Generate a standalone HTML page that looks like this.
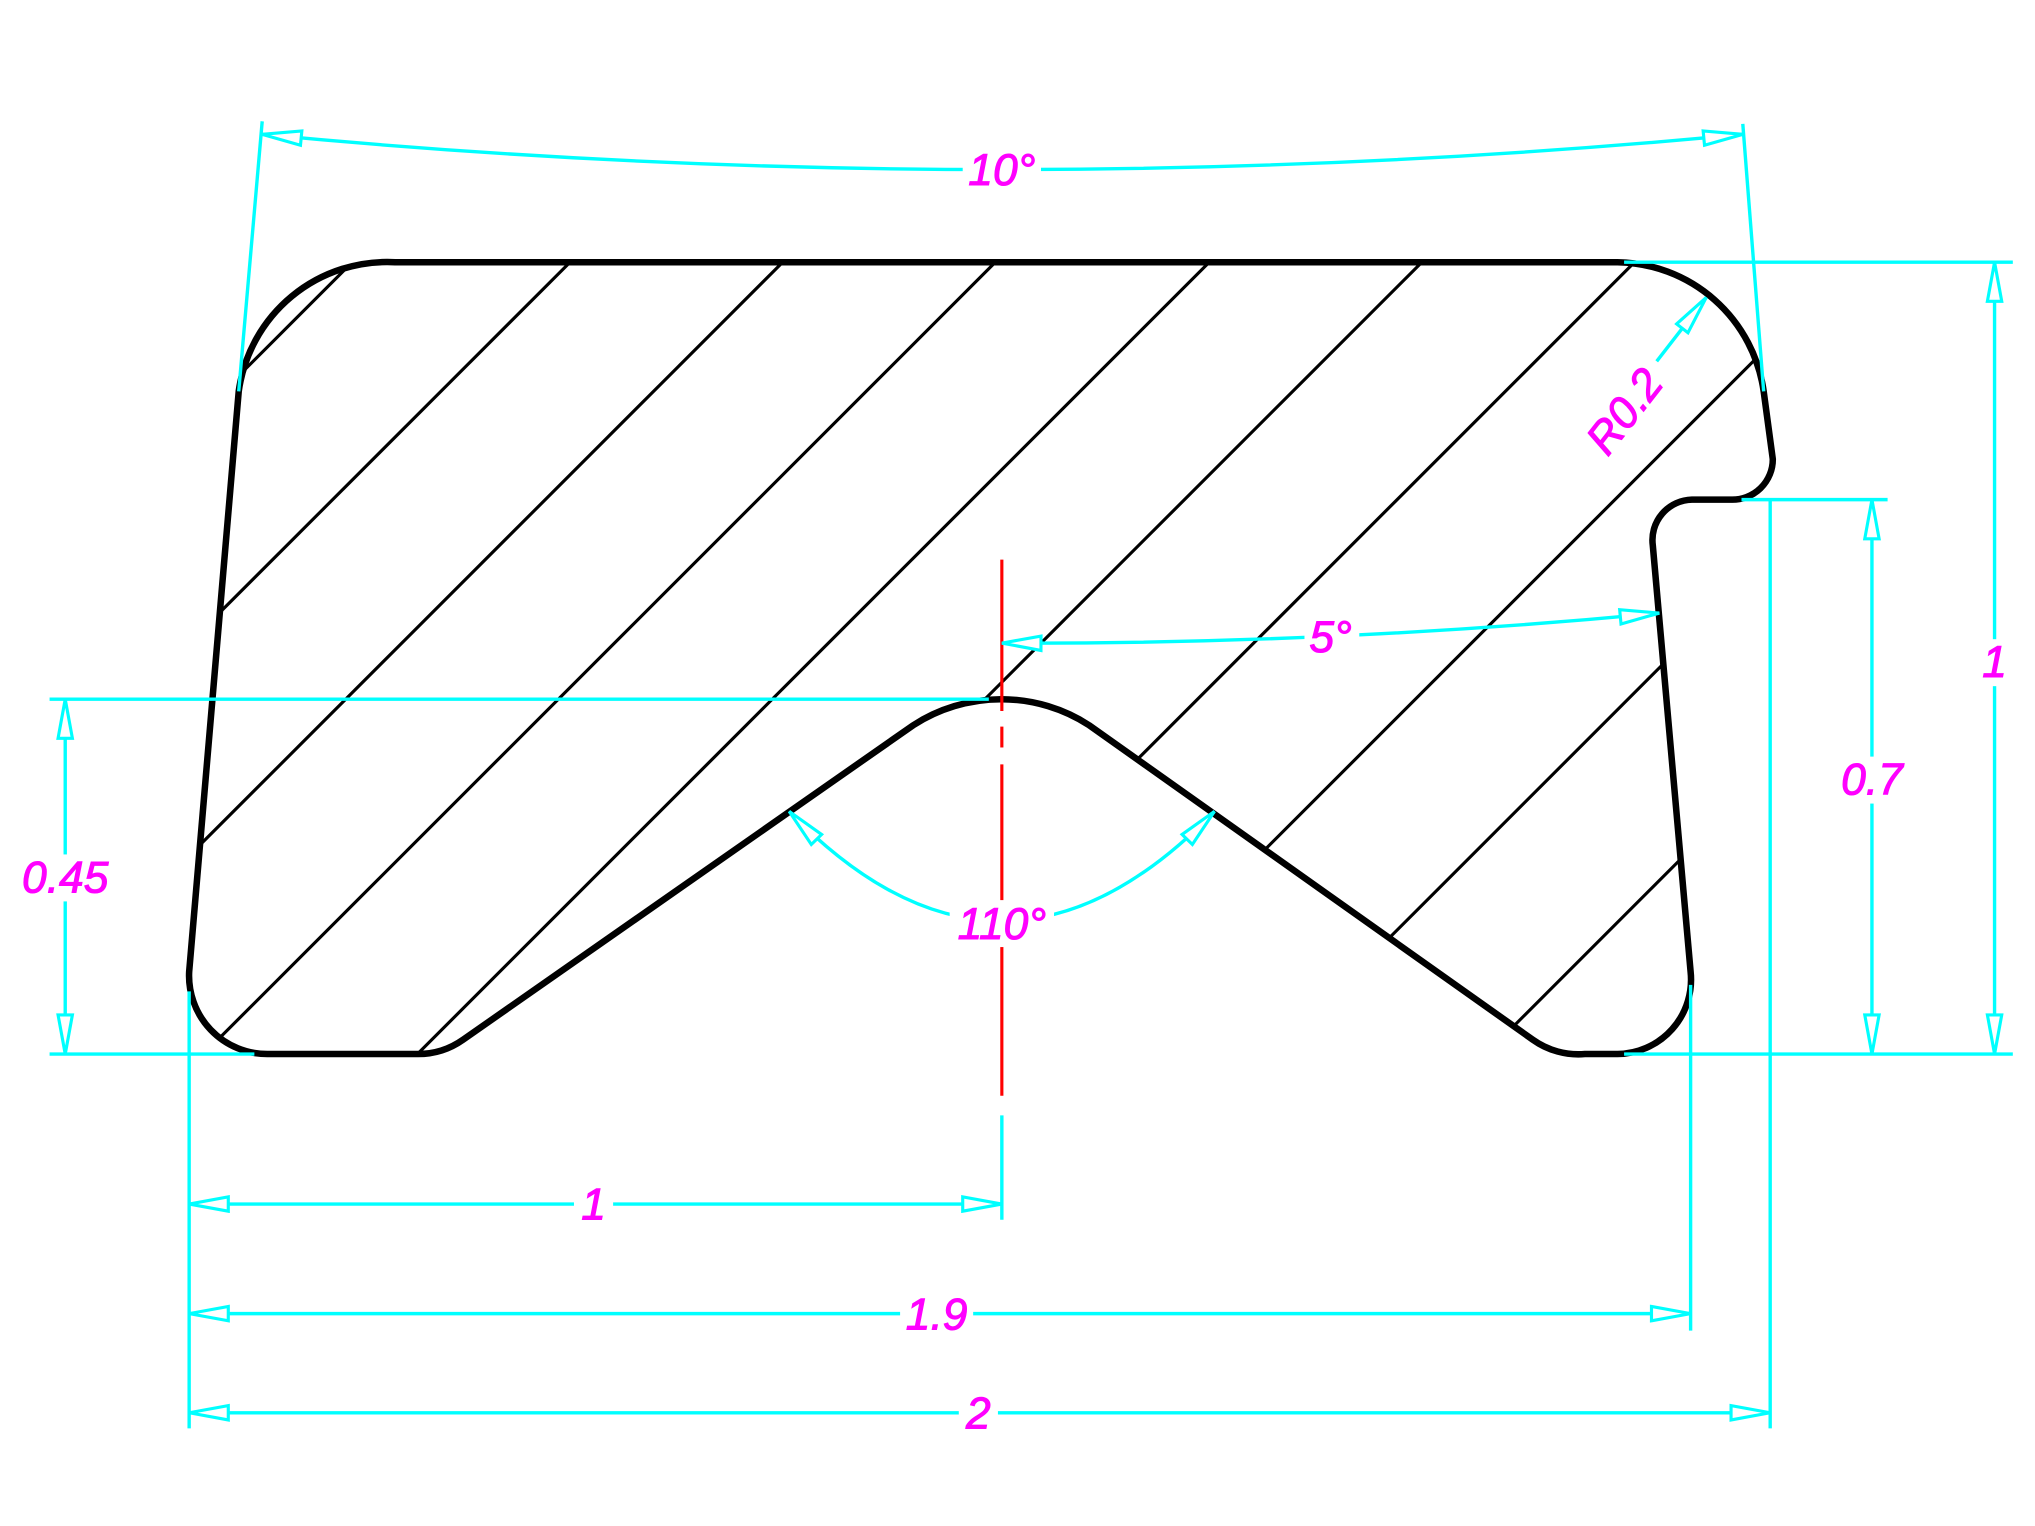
<!DOCTYPE html>
<html><head><meta charset="utf-8"><style>html,body{margin:0;padding:0;background:#fff;width:2035px;height:1526px;overflow:hidden}svg{display:block}</style></head>
<body>
<svg width="2035" height="1526" viewBox="0 0 1560 1169.8" preserveAspectRatio="none" xmlns="http://www.w3.org/2000/svg">
<defs>
<marker id="a" viewBox="-32 -7 34 14" markerWidth="34" markerHeight="14" refX="0" refY="0" orient="auto-start-reverse" markerUnits="userSpaceOnUse">
<path d="M0,0 L-30,-5.5 L-30,5.5 Z" fill="#fff" stroke="#00ffff" stroke-width="2.4"/>
</marker>
<clipPath id="c"><path d="M303,201 L1240,201 A115,115 0 0 1 1352,300 L1359,352 A31,31 0 0 1 1327,383 L1297,383 A31,31 0 0 0 1267,418 L1296,745 A57,57 0 0 1 1240,808 L1215,808 A60,60 0 0 1 1175,797 L835,556 A124,124 0 0 0 700,556 L355,797 A60,60 0 0 1 320,808 L205,808 A60,60 0 0 1 145,745 L183,300 A115,115 0 0 1 303,201 Z"/></clipPath>
</defs>
<g clip-path="url(#c)" stroke="#000" stroke-width="2.4">
<line x1="471" y1="0" x2="0" y2="471"/>
<line x1="638" y1="0" x2="0" y2="638"/>
<line x1="801" y1="0" x2="0" y2="801"/>
<line x1="964" y1="0" x2="0" y2="964"/>
<line x1="1128" y1="0" x2="0" y2="1128"/>
<line x1="1291" y1="0" x2="0" y2="1291"/>
<line x1="1454" y1="0" x2="0" y2="1454"/>
<line x1="1621" y1="0" x2="0" y2="1621"/>
<line x1="1784" y1="0" x2="0" y2="1784"/>
<line x1="1947" y1="0" x2="0" y2="1947"/>
</g>
<path d="M303,201 L1240,201 A115,115 0 0 1 1352,300 L1359,352 A31,31 0 0 1 1327,383 L1297,383 A31,31 0 0 0 1267,418 L1296,745 A57,57 0 0 1 1240,808 L1215,808 A60,60 0 0 1 1175,797 L835,556 A124,124 0 0 0 700,556 L355,797 A60,60 0 0 1 320,808 L205,808 A60,60 0 0 1 145,745 L183,300 A115,115 0 0 1 303,201 Z" fill="none" stroke="#000" stroke-width="5"/>
<g stroke="#ff0000" stroke-width="2.4">
<line x1="768" y1="429" x2="768" y2="545"/>
<line x1="768" y1="557" x2="768" y2="573"/>
<line x1="768" y1="586" x2="768" y2="840"/>
</g>
<g stroke="#00ffff" stroke-width="2.6" fill="none">
<line x1="183" y1="300" x2="201" y2="93"/>
<line x1="1352" y1="300" x2="1336" y2="95"/>
<path d="M201,103 Q768,157 1336,103" marker-start="url(#a)" marker-end="url(#a)"/>
<line x1="1245" y1="201" x2="1543" y2="201"/>
<line x1="1245" y1="808" x2="1543" y2="808"/>
<line x1="1529" y1="201" x2="1529" y2="808" marker-start="url(#a)" marker-end="url(#a)"/>
<line x1="1335" y1="383" x2="1447" y2="383"/>
<line x1="1435" y1="383" x2="1435" y2="808" marker-start="url(#a)" marker-end="url(#a)"/>
<line x1="38" y1="536" x2="758" y2="536"/>
<line x1="38" y1="808" x2="195" y2="808"/>
<line x1="50" y1="536" x2="50" y2="808" marker-start="url(#a)" marker-end="url(#a)"/>
<line x1="145" y1="760" x2="145" y2="1095"/>
<line x1="768" y1="855" x2="768" y2="935"/>
<line x1="1296" y1="755" x2="1296" y2="1020"/>
<line x1="1357" y1="383" x2="1357" y2="1095"/>
<line x1="145" y1="923" x2="768" y2="923" marker-start="url(#a)" marker-end="url(#a)"/>
<line x1="145" y1="1007" x2="1296" y2="1007" marker-start="url(#a)" marker-end="url(#a)"/>
<line x1="145" y1="1083" x2="1357" y2="1083" marker-start="url(#a)" marker-end="url(#a)"/>
<path d="M768,493 Q1020,494 1272,470" marker-start="url(#a)" marker-end="url(#a)"/>
<path d="M605,622 Q768,790 931,622" marker-start="url(#a)" marker-end="url(#a)"/>
<line x1="1270" y1="277" x2="1308" y2="228" marker-end="url(#a)"/>
</g>
<g font-family="'Liberation Sans', sans-serif" font-style="italic" font-size="34" fill="#ff00ff" stroke="#ff00ff" stroke-width="0.8" text-anchor="middle">
<rect x="738" y="112" width="60" height="36" fill="#fff" stroke="none"/>
<text x="768" y="142">10°</text>
<rect x="1000" y="472" width="42" height="34" fill="#fff" stroke="none"/>
<text x="1020" y="500">5°</text>
<rect x="728" y="690" width="80" height="36" fill="#fff" stroke="none"/>
<text x="768" y="720">110°</text>
<rect x="1512" y="490" width="34" height="36" fill="#fff" stroke="none"/>
<text x="1529" y="519">1</text>
<rect x="1405" y="580" width="60" height="36" fill="#fff" stroke="none"/>
<text x="1435" y="609">0.7</text>
<rect x="8" y="655" width="86" height="36" fill="#fff" stroke="none"/>
<text x="50" y="684">0.45</text>
<rect x="440" y="906" width="30" height="36" fill="#fff" stroke="none"/>
<text x="455" y="935">1</text>
<rect x="690" y="990" width="56" height="36" fill="#fff" stroke="none"/>
<text x="718" y="1019">1.9</text>
<rect x="735" y="1066" width="30" height="36" fill="#fff" stroke="none"/>
<text x="750" y="1095">2</text>
<text x="1245" y="327" transform="rotate(-52 1245 315)">R0.2</text>
</g>
</svg>
</body></html>
